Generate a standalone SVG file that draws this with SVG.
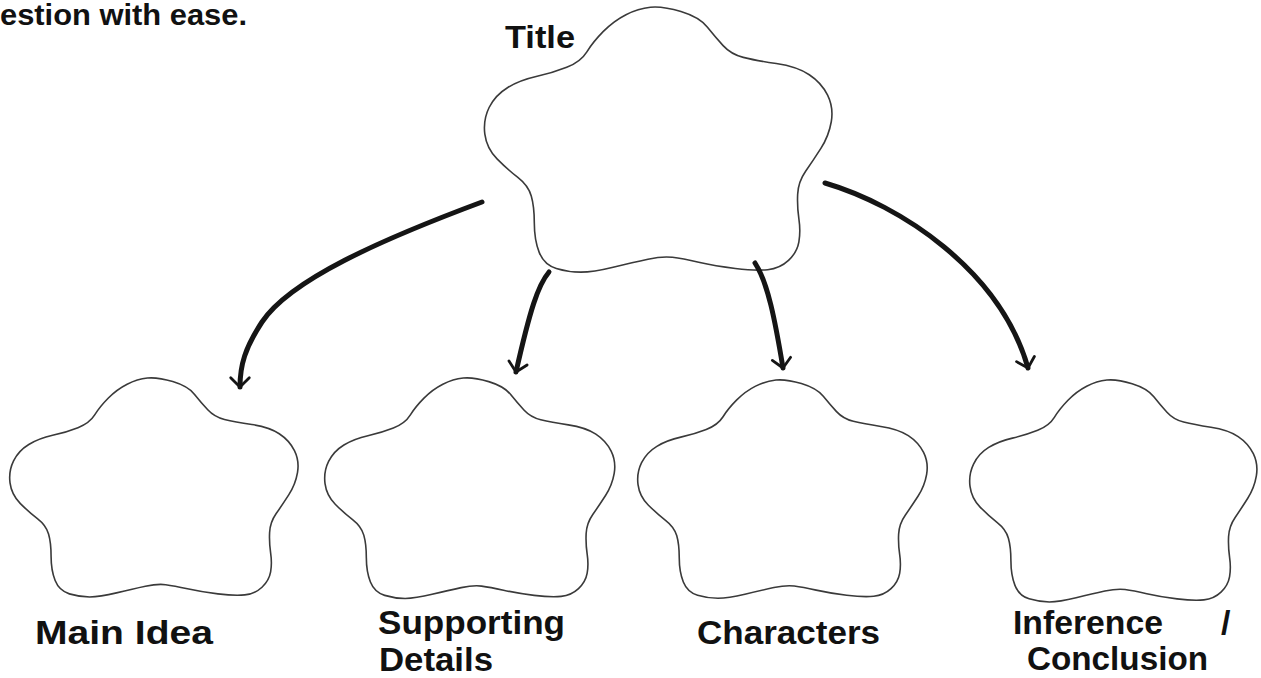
<svg xmlns="http://www.w3.org/2000/svg" xmlns:xlink="http://www.w3.org/1999/xlink" width="1261" height="678" viewBox="0 0 1261 678">
<style>
.flower{fill:none;stroke:#3a3a3a;stroke-width:1.6}
.lbl{font-family:"Liberation Sans","DejaVu Sans",Arial,sans-serif;font-weight:bold;fill:#111}
.arrow{fill:none;stroke:#151515;stroke-width:5;stroke-linecap:round;marker-end:url(#head)}
</style>
<defs>
<path id="flowerShape" vector-effect="non-scaling-stroke" d="M137,1 Q147,0 162,4.5 Q177,9 183.5,17 Q190,25 196.5,32 Q203,39 213,41.5 Q223,44 240,46.5 Q257,49 267,55.5 Q277,62 282,72 Q287,82 285,93.5 Q283,105 276.5,115 Q270,125 264,133.5 Q258,142 257.5,152 Q257,162 258.5,172 Q260,182 258.5,190.5 Q257,199 250,205.5 Q243,212 233,213 Q223,214 206.5,212 Q190,210 176.5,207 Q163,204 155,203 Q147,202 135,204.5 Q123,207 106.5,211 Q90,215 80,215 Q70,215 60,212 Q50,209 46,199 Q42,189 42,175.5 Q42,162 39.5,153.5 Q37,145 28.5,138.5 Q20,132 11.5,123.5 Q3,115 1.5,103.5 Q0,92 5,82 Q10,72 20,66 Q30,60 43.5,57 Q57,54 68.5,49.5 Q80,45 85,37 Q90,29 98.5,20.5 Q107,12 117,7 Q127,2 137,1 Z"/>
<marker id="head" viewBox="-14 -14 28 28" refX="0" refY="0" markerWidth="26" markerHeight="26" markerUnits="userSpaceOnUse" orient="auto">
<path d="M-10,-10 L0,0 L-10,10" fill="none" stroke="#151515" stroke-width="3" stroke-linecap="round" stroke-linejoin="round"/>
</marker>
</defs>
<rect width="1261" height="678" fill="#ffffff"/>
<text class="lbl" x="0" y="25" font-size="30" textLength="247" lengthAdjust="spacingAndGlyphs">estion with ease.</text>
<g id="node-title">
<use xlink:href="#flowerShape" class="flower" transform="translate(483,6) scale(1.222,1.238)"/>
<text class="lbl" x="505" y="48" font-size="32" textLength="70" lengthAdjust="spacingAndGlyphs">Title</text>
</g>
<g id="node-main-idea">
<use xlink:href="#flowerShape" class="flower" transform="translate(8.5,377) scale(1.014,1.023)"/>
<text class="lbl" x="35" y="644" font-size="34" textLength="178" lengthAdjust="spacingAndGlyphs">Main Idea</text>
</g>
<g id="node-supporting-details">
<use xlink:href="#flowerShape" class="flower" transform="translate(323.5,377) scale(1.02,1.03)"/>
<text class="lbl" x="378" y="634" font-size="34" textLength="187" lengthAdjust="spacingAndGlyphs">Supporting</text>
<text class="lbl" x="379" y="671" font-size="33" textLength="114" lengthAdjust="spacingAndGlyphs">Details</text>
</g>
<g id="node-characters">
<use xlink:href="#flowerShape" class="flower" transform="translate(636.5,379) scale(1.018,1.02)"/>
<text class="lbl" x="697" y="644" font-size="34" textLength="183" lengthAdjust="spacingAndGlyphs">Characters</text>
</g>
<g id="node-inference">
<use xlink:href="#flowerShape" class="flower" transform="translate(968.5,379) scale(1.01,1.037)"/>
<text class="lbl" x="1013" y="634" font-size="34" textLength="150" lengthAdjust="spacingAndGlyphs">Inference</text>
<text class="lbl" x="1221" y="634" font-size="34">/</text>
<text class="lbl" x="1027" y="670" font-size="34" textLength="181" lengthAdjust="spacingAndGlyphs">Conclusion</text>
</g>
<g id="connectors">
<path class="arrow" d="M482,202 C380,240 290,280 262,322 C245,348 240,365 240,387"/>
<path class="arrow" d="M549,272 C538,285 530,310 516,372"/>
<path class="arrow" d="M755,263 C768,283 775,320 783,368"/>
<path class="arrow" d="M825,183 C900,205 1000,270 1028,368"/>
</g>
</svg>
